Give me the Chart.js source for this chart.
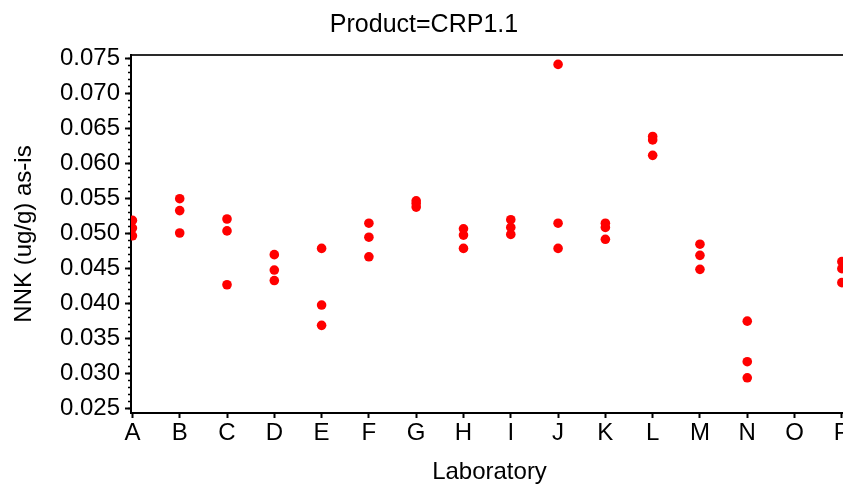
<!DOCTYPE html>
<html>
<head>
<meta charset="utf-8">
<script src="https://cdn.jsdelivr.net/npm/chart.js@4/dist/chart.umd.min.js"></script>
<style>
  html, body { margin: 0; padding: 0; overflow: hidden; background: #fff; }
  canvas { display: block; }
</style>
</head>
<body>
<canvas id="c" width="854" height="484"></canvas>
<script>
// ---- data ----
const categories = ["A","B","C","D","E","F","G","H","I","J","K","L","M","N","O","P"];
const labA = [0.0519, 0.0508, 0.0497];
const labB = [0.0550, 0.0533, 0.0501];
const labC = [0.0521, 0.0504, 0.0427];
const labD = [0.0470, 0.0448, 0.0433];
const labE = [0.0479, 0.0398, 0.0369];
const labF = [0.0515, 0.0495, 0.0467];
const labG = [0.0547, 0.0543, 0.0538];
const labH = [0.0507, 0.0498, 0.0479];
const labI = [0.0520, 0.0509, 0.0499];
const labJ = [0.0742, 0.0515, 0.0479];
const labK = [0.0515, 0.0509, 0.0492];
const labL = [0.0639, 0.0634, 0.0612];
const labM = [0.0485, 0.0469, 0.0449];
const labN = [0.0375, 0.0317, 0.0294];
const labO = [];
const labP = [0.0460, 0.0450, 0.0430];
const labValues = [labA, labB, labC, labD, labE, labF, labG, labH, labI, labJ, labK, labL, labM, labN, labO, labP];
const yTickStep = 0.005;
const yMinorStep = 0.001;
const chartTitle = "Product=CRP1.1";
const xTitle = "Laboratory";
const yTitle = "NNK (ug/g) as-is";

const points = [];
labValues.forEach((vals, i) => vals.forEach(v => points.push({x: i, y: v})));

const FONT = "'Liberation Sans', Arial, sans-serif";
const yMin = 0.02437, yMax = 0.07554;

new Chart(document.getElementById('c'), {
  type: 'scatter',
  data: {
    datasets: [{
      data: points,
      xAxisID: 'x',
      yAxisID: 'y',
      backgroundColor: '#ff0000',
      borderColor: '#ff0000',
      borderWidth: 0,
      pointRadius: 4.8,
      pointHoverRadius: 4.8,
      pointStyle: 'circle'
    }]
  },
  options: {
    responsive: false,
    animation: false,
    events: [],
    layout: { padding: { left: 0, right: 6, top: 0, bottom: 0 } },
    plugins: {
      legend: { display: false },
      tooltip: { enabled: false },
      title: {
        display: true,
        text: chartTitle,
        color: '#000',
        font: { family: FONT, size: 25, weight: 'normal', lineHeight: 1.2 },
        padding: { top: 10, bottom: 15 }
      }
    },
    scales: {
      x: {
        type: 'linear',
        position: 'bottom',
        min: -0.03,
        max: 15.13,
        afterFit: s => { s.height = 71; s.paddingLeft = 0; s.paddingRight = 0; },
        ticks: {
          stepSize: 1,
          autoSkip: false,
          includeBounds: false,
          maxRotation: 0,
          minRotation: 0,
          padding: 1,
          color: '#000',
          font: { family: FONT, size: 24 },
          callback: v => categories[v] !== undefined ? categories[v] : ''
        },
        grid: { drawOnChartArea: false, drawTicks: true, tickLength: 5, tickWidth: 2, tickColor: '#000' },
        border: { display: true, color: '#000', width: 2 },
        title: {
          display: true, text: xTitle, color: '#000',
          font: { family: FONT, size: 24, lineHeight: 1 },
          padding: { top: 0, bottom: 0 }
        }
      },
      xTop: {
        type: 'linear',
        position: 'top',
        min: -0.03,
        max: 15.13,
        afterFit: s => { s.height = 0; s.paddingLeft = 0; s.paddingRight = 0; },
        ticks: { display: false },
        grid: { drawOnChartArea: false, drawTicks: false },
        border: { display: true, color: '#2a2a2a', width: 2 }
      },
      y: {
        type: 'linear',
        position: 'left',
        weight: 1,
        min: yMin,
        max: yMax,
        afterFit: s => { s.width = 131; s.paddingTop = 0; s.paddingBottom = 0; },
        ticks: {
          stepSize: yTickStep,
          includeBounds: false,
          padding: 5,
          color: '#000',
          font: { family: FONT, size: 24 },
          callback: v => v.toFixed(3)
        },
        grid: { drawOnChartArea: false, drawTicks: true, tickLength: 6, tickWidth: 2, tickColor: '#000' },
        border: { display: true, color: '#000', width: 2 },
        title: {
          display: true, text: yTitle, color: '#000',
          font: { family: FONT, size: 24, lineHeight: 1 },
          padding: { top: 12, bottom: 0 }
        }
      },
      yMinor: {
        type: 'linear',
        position: 'left',
        weight: 0,
        min: yMin,
        max: yMax,
        afterFit: s => { s.width = 0; s.paddingTop = 0; s.paddingBottom = 0; },
        ticks: { stepSize: yMinorStep, includeBounds: false, display: false },
        grid: { drawOnChartArea: false, drawTicks: true, tickLength: 3, tickWidth: 1.5, tickColor: '#000' },
        border: { display: false }
      }
    }
  }
});
</script>
</body>
</html>
